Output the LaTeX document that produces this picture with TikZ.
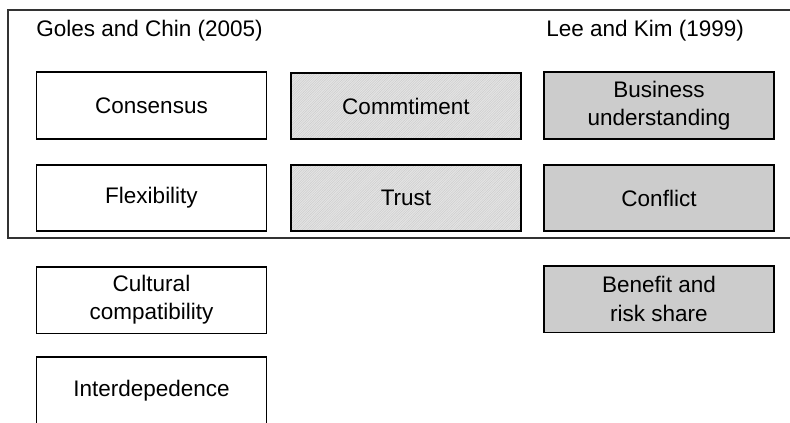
\documentclass[tikz,border=0pt]{standalone}
\usepackage{fontspec}
\setmainfont{Liberation Sans}
\usetikzlibrary{patterns}

% thin diagonal hatch for the shared factors
\pgfdeclarepatternformonly{fine hatch}{\pgfqpoint{-1pt}{-1pt}}{\pgfqpoint{3pt}{3pt}}{\pgfqpoint{1.7pt}{1.7pt}}{
  \pgfsetlinewidth{0.3pt}
  \pgfpathmoveto{\pgfqpoint{0pt}{0pt}}
  \pgfpathlineto{\pgfqpoint{1.8pt}{1.8pt}}
  \pgfusepath{stroke}}

\begin{document}
\begin{tikzpicture}[x=0.025cm,y=-0.025cm]
\tikzstyle{factor} = [draw, line width=1.3pt, minimum width=5.75cm, minimum height=1.67cm, inner sep=0pt, align=center, font=\fontsize{16}{20}\selectfont]
\tikzstyle{shared} = [factor, preaction={fill=black!10}, pattern=fine hatch, pattern color=black!20]
\tikzstyle{leekim} = [factor, fill=black!20]
\tikzstyle{source} = [anchor=base west, inner sep=0pt, font=\fontsize{16}{20}\selectfont]
\useasboundingbox (0,0) rectangle (790,422);
\clip (0,0) rectangle (790,422);

% frame round the first two rows
\draw[line width=0.9pt, black!80] (790,10) -- (8,10) -- (8,238) -- (790,238);

\node[source] (goles) at (36,36) {Goles and Chin (2005)};
\node[source] (lee) at (546,36) {Lee and Kim (1999)};

\node[factor] (consensus) at (151.5,105.5) {Consensus};
\node[shared] (commitment) at (406,106) {Commtiment};
\node[leekim] (business) at (659,105.5) {Business\\understanding};

\node[factor] (flexibility) at (151.5,198) {Flexibility};
\node[shared] (trust) at (406,198) {Trust};
\node[leekim] (conflict) at (659,198) {Conflict};

\node[factor] (cultural) at (151.5,300) {Cultural\\compatibility};
\node[leekim] (benefit) at (659,299) {Benefit and\\risk share};

\node[factor] (interdep) at (151.5,390.5) {Interdepedence};
\end{tikzpicture}
\end{document}
